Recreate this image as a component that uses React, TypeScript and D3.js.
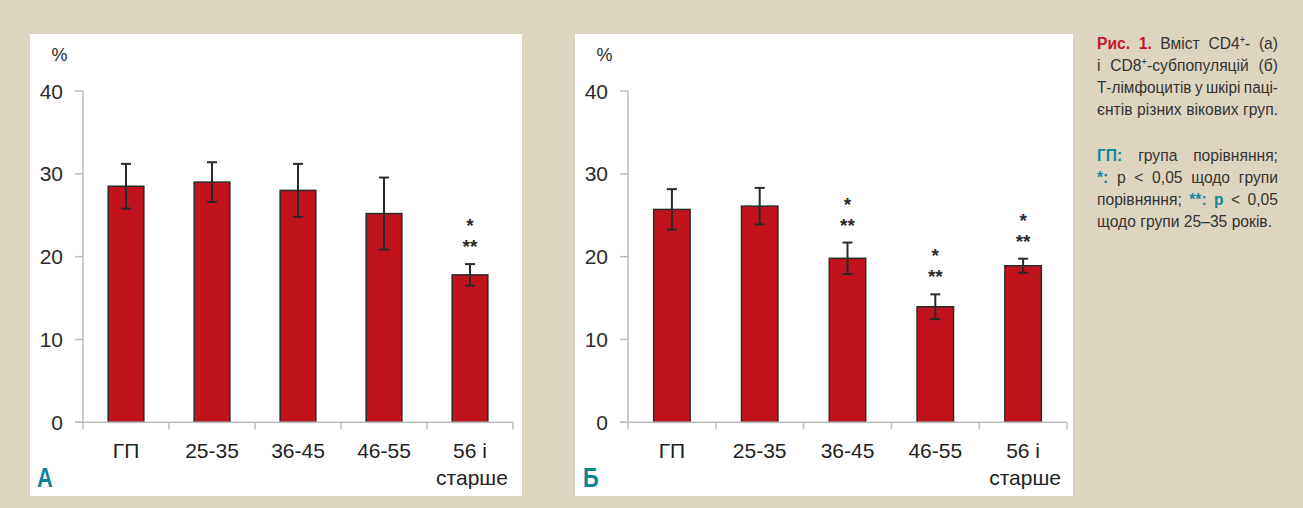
import React, { useMemo } from "react";
import * as d3 from "d3";

// ---- data ----
const categoryLines: string[][] = [["ГП"], ["25-35"], ["36-45"], ["46-55"], ["56 і", "старше"]];
const yTicks = [0, 10, 20, 30, 40];

// CD4+ (panel А)
const cd4Means = [28.5, 29.0, 28.0, 25.2, 17.8];
const cd4Errors = [2.7, 2.4, 3.2, 4.35, 1.3];
const cd4Marks: string[][] = [[], [], [], [], ["*", "**"]];

// CD8+ (panel Б)
const cd8Means = [25.7, 26.1, 19.8, 13.95, 18.9];
const cd8Errors = [2.45, 2.2, 1.9, 1.5, 0.85];
const cd8Marks: string[][] = [[], [], ["*", "**"], ["*", "**"], ["*", "**"]];

// caption text: each line is a list of words, each word a list of styled pieces
type Seg = { t: string; bold?: boolean; color?: string; sup?: boolean };
const RED = "red";
const TEAL = "teal";
const captionLines: { words: Seg[][]; justify: boolean }[] = [
  { words: [[{ t: "Рис.", bold: true, color: RED }], [{ t: "1.", bold: true, color: RED }], [{ t: "Вміст" }], [{ t: "CD4" }, { t: "+", sup: true }, { t: "-" }], [{ t: "(а)" }]], justify: true },
  { words: [[{ t: "і" }], [{ t: "CD8" }, { t: "+", sup: true }, { t: "-субпопуляцій" }], [{ t: "(б)" }]], justify: true },
  { words: [[{ t: "Т-лімфоцитів" }], [{ t: "у" }], [{ t: "шкірі" }], [{ t: "паці-" }]], justify: true },
  { words: [[{ t: "єнтів" }], [{ t: "різних" }], [{ t: "вікових" }], [{ t: "груп." }]], justify: true },
  { words: [[{ t: "ГП:", bold: true, color: TEAL }], [{ t: "група" }], [{ t: "порівняння;" }]], justify: true },
  { words: [[{ t: "*:", bold: true, color: TEAL }], [{ t: "p" }], [{ t: "<" }], [{ t: "0,05" }], [{ t: "щодо" }], [{ t: "групи" }]], justify: true },
  { words: [[{ t: "порівняння;" }], [{ t: "**:", bold: true, color: TEAL }], [{ t: "p", bold: true, color: TEAL }], [{ t: "<" }], [{ t: "0,05" }]], justify: true },
  { words: [[{ t: "щодо" }], [{ t: "групи" }], [{ t: "25–35" }], [{ t: "років." }]], justify: false },
];

// ---- styling ----
const BG = "#ded5c1";
const BAR = "#c1131d";
const INK = "#2a2a2a";
const AXIS = "#bdbdbd";
const CAPTION_COLORS: Record<string, string> = { red: "#c0172a", teal: "#13899c" };
const FONT = "'Liberation Sans', Arial, sans-serif";

type PanelGeom = {
  left: number;
  width: number;
  axisX0: number;
  axisX1: number;
  labelRight: number;
  percentX: number;
  letterX: number;
};

const TOP = 34;
const BOTTOM = 496;
const Y0 = 422.3;
const Y40 = 91;

function BarPanel({ g, means, errors, marks, letter }: { g: PanelGeom; means: number[]; errors: number[]; marks: string[][]; letter: string }) {
  const y = d3.scaleLinear().domain([0, 40]).range([Y0, Y40]);
  const x = d3.scaleBand<number>().domain(d3.range(means.length)).range([g.axisX0, g.axisX1]);
  const bw = x.bandwidth() * 0.415;
  const capW = 10;
  return (
    <g>
      <rect x={g.left} y={TOP} width={g.width} height={BOTTOM - TOP} fill="#fff" />
      {/* y axis */}
      <line x1={g.axisX0} x2={g.axisX0} y1={y(40)} y2={y(0)} stroke={AXIS} strokeWidth={1.5} />
      {yTicks.map((t) => (
        <g key={t}>
          <line x1={g.axisX0 - 8} x2={g.axisX0} y1={y(t)} y2={y(t)} stroke={AXIS} strokeWidth={1.5} />
          <text x={g.labelRight} y={y(t) + 7.5} textAnchor="end" fontSize={21} fill="#2b2b2b" fontFamily={FONT}>
            {t}
          </text>
        </g>
      ))}
      <text x={g.percentX} y={61} textAnchor="middle" fontSize={18} fill="#2b2b2b" fontFamily={FONT}>
        %
      </text>
      {/* bars */}
      {means.map((m, i) => {
        const cx = (x(i) as number) + x.bandwidth() / 2;
        const top = y(m + errors[i]);
        const bot = y(m - errors[i]);
        return (
          <g key={i}>
            <rect x={cx - bw / 2} y={y(m)} width={bw} height={y(0) - y(m)} fill={BAR} stroke={INK} strokeWidth={1.5} />
            <line x1={cx} x2={cx} y1={top} y2={bot} stroke={INK} strokeWidth={2} />
            <line x1={cx - capW / 2} x2={cx + capW / 2} y1={top} y2={top} stroke={INK} strokeWidth={2} />
            <line x1={cx - capW / 2} x2={cx + capW / 2} y1={bot} y2={bot} stroke={INK} strokeWidth={2} />
            {marks[i].map((s, j) => (
              <text
                key={j}
                x={cx}
                y={top - 42 + j * 21 + 10}
                textAnchor="middle"
                fontSize={19}
                fontWeight="bold"
                fill="#2b2b2b"
                fontFamily={FONT}
              >
                {s}
              </text>
            ))}
          </g>
        );
      })}
      {/* x axis */}
      <line x1={g.axisX0 - 8} x2={g.axisX1} y1={y(0)} y2={y(0)} stroke={AXIS} strokeWidth={1.5} />
      {d3.range(means.length + 1).map((i) => {
        const xx = i < means.length ? (x(i) as number) : g.axisX1;
        return <line key={i} x1={xx} x2={xx} y1={y(0)} y2={y(0) + 7} stroke={AXIS} strokeWidth={1.5} />;
      })}
      {categoryLines.map((lines, i) => {
        const cx = (x(i) as number) + x.bandwidth() / 2;
        return (
          <text key={i} x={cx} y={458} textAnchor="middle" fontSize={21} fill="#222" fontFamily={FONT}>
            {lines.map((l, j) => (
              <tspan key={j} x={cx + (j > 0 ? 2 : 0)} dy={j === 0 ? 0 : 26.5}>
                {l}
              </tspan>
            ))}
          </text>
        );
      })}
      <text
        transform={`translate(${g.letterX},487) scale(0.78,1)`}
        fontSize={28}
        fontWeight="bold"
        fill="#0e8396"
        fontFamily={FONT}
      >
        {letter}
      </text>
    </g>
  );
}

function Caption() {
  const left = 1097;
  const width = 181;
  const condense = 0.92;
  const baselines = [49, 71, 93, 115, 161, 183, 205, 227];
  const size = 17;
  const supSize = 10;

  const layout = useMemo(() => {
    const ctx = document.createElement("canvas").getContext("2d")!;
    const measure = (s: Seg) => {
      ctx.font = `${s.bold ? "bold " : ""}${s.sup ? supSize : size}px "Liberation Sans"`;
      return ctx.measureText(s.t).width;
    };
    ctx.font = `${size}px "Liberation Sans"`;
    const space = ctx.measureText(" ").width;
    return captionLines.map((line) => {
      const widths = line.words.map((w) => d3.sum(w, measure));
      const total = d3.sum(widths);
      const gaps = line.words.length - 1;
      let k = condense;
      const minGap = space * 0.8;
      if ((total + gaps * minGap) * k > width) k = width / (total + gaps * minGap);
      const avail = width / k;
      const gap = line.justify && gaps > 0 ? (avail - total) / gaps : space;
      const xs: number[] = [];
      let cur = 0;
      widths.forEach((w) => {
        xs.push(cur);
        cur += w + gap;
      });
      return { k, xs };
    });
  }, []);

  return (
    <g fontFamily={FONT} fontSize={size} fill="#333">
      {captionLines.map((line, i) => (
        <g key={i} transform={`translate(${left},${baselines[i]}) scale(${layout[i].k},1)`}>
          {line.words.map((w, j) => (
            <text key={j} x={layout[i].xs[j]} y={0}>
              {w.map((s, n) => {
                const prevSup = n > 0 && w[n - 1].sup;
                return (
                  <tspan
                    key={n}
                    fontWeight={s.bold ? "bold" : "normal"}
                    fill={s.color ? CAPTION_COLORS[s.color] : "#333"}
                    fontSize={s.sup ? supSize : size}
                    dy={s.sup ? -6 : prevSup ? 6 : 0}
                  >
                    {s.t}
                  </tspan>
                );
              })}
            </text>
          ))}
        </g>
      ))}
    </g>
  );
}

const panelA: PanelGeom = { left: 30, width: 492, axisX0: 83, axisX1: 513, labelRight: 63, percentX: 59.5, letterX: 37 };
const panelB: PanelGeom = { left: 575, width: 498, axisX0: 628, axisX1: 1067, labelRight: 608, percentX: 604.5, letterX: 583 };

export default function App() {
  return (
    <svg
      width={1303}
      height={508}
      style={{ position: "absolute", left: 0, top: 0, display: "block" }}
    >
      <rect width={1303} height={508} fill={BG} />
      <BarPanel g={panelA} means={cd4Means} errors={cd4Errors} marks={cd4Marks} letter="А" />
      <BarPanel g={panelB} means={cd8Means} errors={cd8Errors} marks={cd8Marks} letter="Б" />
      <Caption />
    </svg>
  );
}
